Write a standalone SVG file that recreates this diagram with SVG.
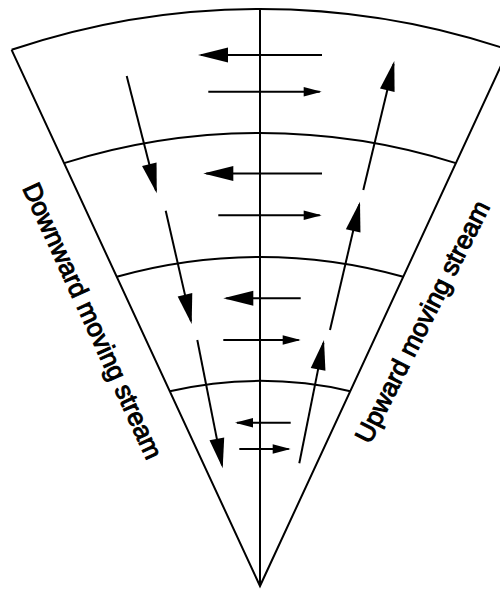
<svg xmlns="http://www.w3.org/2000/svg" width="500" height="590" viewBox="0 0 500 590">
  <style>
    .ln { fill: none; stroke: #000; stroke-width: 2; stroke-linecap: butt; }
    .big { marker-end: url(#headBig); }
    .small { marker-end: url(#headSmall); }
    .lbl { font-family: "Liberation Sans", Arial, Helvetica, sans-serif; font-size: 26px; font-weight: normal; fill: #000; stroke: #000; stroke-width: 1; }
  </style>
  <defs>
    <marker id="headBig" markerUnits="userSpaceOnUse" markerWidth="30" markerHeight="15" refX="27" refY="7.5" orient="auto" overflow="visible">
      <path d="M0,0 L30,7.5 L0,15 Z" fill="#000"/>
    </marker>
    <marker id="headSmall" markerUnits="userSpaceOnUse" markerWidth="18" markerHeight="9.5" refX="16" refY="4.75" orient="auto" overflow="visible">
      <path d="M0,0 L18,4.75 L0,9.5 Z" fill="#000"/>
    </marker>
  </defs>
  <rect width="500" height="590" fill="#fff"/>

  <g id="fan">
    <path class="ln" d="M11.6,49.8 L260,586 L508.4,49.8"/>
    <path class="ln" d="M11.6,49.8 A776,776 0 0 1 508.4,49.8"/>
    <path class="ln" d="M64.1,163.1 A652,652 0 0 1 455.9,163.1"/>
    <path class="ln" d="M116.8,276.8 A528,528 0 0 1 403.2,276.8"/>
    <path class="ln" d="M169.8,391.2 A404,404 0 0 1 350.2,391.2"/>
    <line class="ln" x1="260" y1="9" x2="260" y2="586"/>
  </g>

  <g id="connectors">
    <!-- horizontal flows -->
    <line class="ln big" x1="322" y1="55" x2="201" y2="55"/>
    <line class="ln small" x1="208.3" y1="91.7" x2="319.7" y2="91.7"/>
    <line class="ln big" x1="322" y1="173.5" x2="206.3" y2="173.5"/>
    <line class="ln small" x1="218.3" y1="215.3" x2="319.7" y2="215.3"/>
    <line class="ln big" x1="300.7" y1="298.3" x2="226.3" y2="298.3"/>
    <line class="ln small" x1="223.3" y1="340" x2="298.7" y2="340"/>
    <line class="ln small" x1="290.7" y1="422.7" x2="237" y2="422.7"/>
    <line class="ln small" x1="239.3" y1="449" x2="288.7" y2="449"/>
    <!-- downward stream -->
    <line class="ln big" x1="126.7" y1="76" x2="156" y2="190.4"/>
    <line class="ln big" x1="165.7" y1="210.7" x2="191" y2="321.1"/>
    <line class="ln big" x1="197.3" y1="340" x2="222.1" y2="465.4"/>
    <!-- upward stream -->
    <line class="ln big" x1="363.3" y1="190" x2="393.6" y2="63.9"/>
    <line class="ln big" x1="330" y1="330" x2="359.3" y2="204.6"/>
    <line class="ln big" x1="299.3" y1="463.3" x2="323.4" y2="342.9"/>
  </g>

  <g id="label-down">
    <text class="lbl" transform="translate(22,188) rotate(65.4)">Downward moving stream</text>
  </g>
  <g id="label-up">
    <text class="lbl" transform="translate(370,445) rotate(-63.2)">Upward moving stream</text>
  </g>
</svg>
